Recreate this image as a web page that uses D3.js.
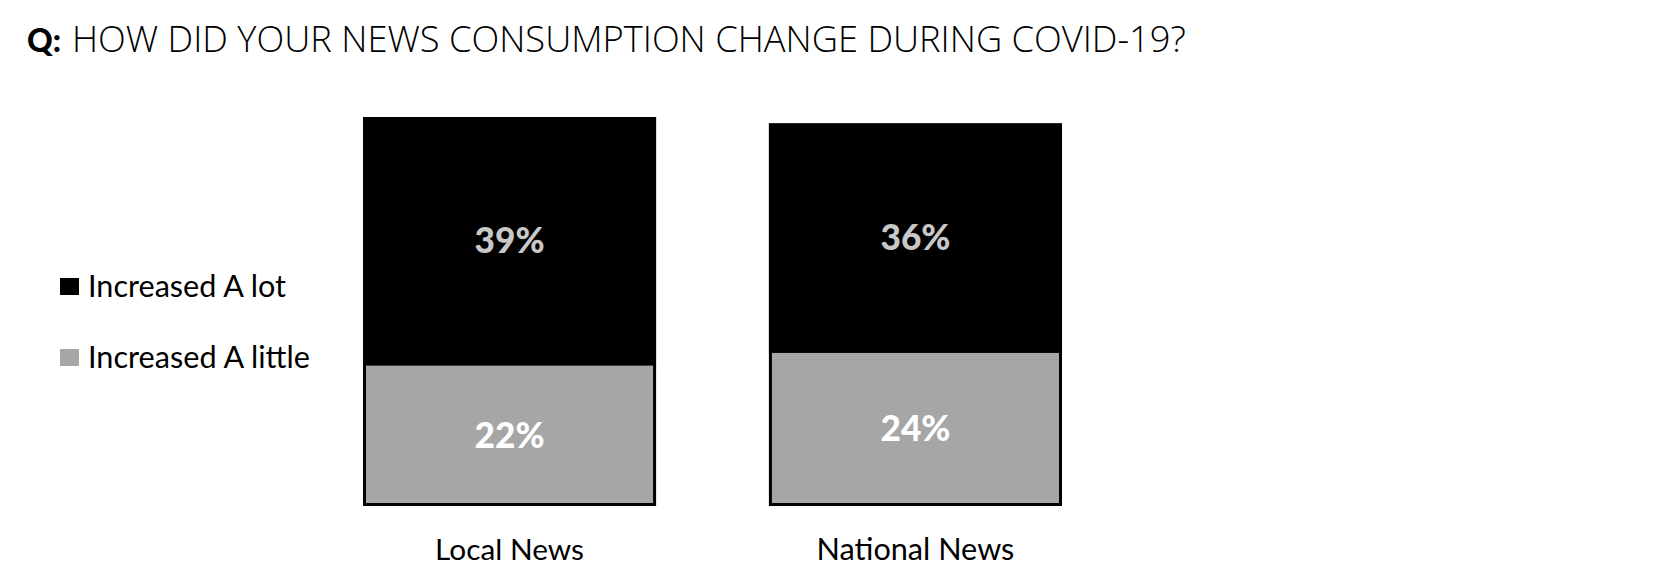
<!DOCTYPE html>
<html>
<head>
<meta charset="utf-8">
<script src="https://cdn.jsdelivr.net/npm/d3@7"></script>
<style>
  html, body { margin: 0; padding: 0; background: #ffffff; }
  svg { display: block; }
</style>
</head>
<body>
<svg id="chart" width="1654" height="588"></svg>
<script>
// ---- data ----
const titlePrefix = "Q:";
const titleText = "HOW DID YOUR NEWS CONSUMPTION CHANGE DURING COVID-19?";
const categories = ["Local News", "National News"];
const seriesNames = ["Increased A lot", "Increased A little"];
const increasedALot = [39, 36];
const increasedALittle = [22, 24];
const valueFormat = v => v + "%";

// ---- layout ----
const W = 1654, H = 588;
const svg = d3.select("#chart");
const colors = { "Increased A lot": "#000000", "Increased A little": "#a6a6a6" };
const labelColors = { "Increased A lot": "#c8c8c8", "Increased A little": "#ffffff" };

const calibriLike = "Lato, 'Open Sans', sans-serif";
const montLike = "'Open Sans', Lato, sans-serif";

function fitWidth(sel, target) {
  const w = sel.node().getComputedTextLength();
  const fs = parseFloat(sel.attr("font-size"));
  sel.attr("font-size", fs * target / w);
}

// title
const tQ = svg.append("text")
  .attr("x", 27).attr("y", 52)
  .attr("font-family", "Lato, sans-serif").attr("font-weight", 900)
  .attr("font-size", 31).attr("fill", "#000").text(titlePrefix);
fitWidth(tQ, 34);
const tT = svg.append("text")
  .attr("x", 72).attr("y", 52)
  .attr("font-family", montLike).attr("font-weight", 300)
  .attr("font-size", 30).attr("fill", "#000").text(titleText);
fitWidth(tT, 1186 - 72);

// scales
const x = d3.scaleBand().domain(categories).range([363, 1062]).paddingInner(0.278).paddingOuter(0);
const y = d3.scaleLinear().domain([0, 61]).range([506, 117]);

const rows = categories.map((c, i) => ({
  category: c,
  "Increased A little": increasedALittle[i],
  "Increased A lot": increasedALot[i]
}));
const stack = d3.stack().keys(["Increased A little", "Increased A lot"]);
const stacked = stack(rows);

const g = svg.append("g");
stacked.forEach(layer => {
  g.selectAll(null).data(layer).enter().append("rect")
    .attr("x", d => x(d.data.category))
    .attr("y", d => y(d[1]))
    .attr("width", x.bandwidth())
    .attr("height", d => y(d[0]) - y(d[1]))
    .attr("fill", colors[layer.key]);
});

// outlines
g.selectAll(null).data(rows).enter().append("rect")
  .attr("x", d => x(d.category) + 1.5)
  .attr("y", d => y(d["Increased A little"] + d["Increased A lot"]) + 1.5)
  .attr("width", x.bandwidth() - 3)
  .attr("height", d => y(0) - y(d["Increased A little"] + d["Increased A lot"]) - 3)
  .attr("fill", "none").attr("stroke", "#000").attr("stroke-width", 3);

// value labels
stacked.forEach(layer => {
  g.selectAll(null).data(layer).enter().append("text")
    .attr("x", d => x(d.data.category) + x.bandwidth() / 2)
    .attr("y", d => (y(d[0]) + y(d[1])) / 2 + 12)
    .attr("text-anchor", "middle")
    .attr("font-family", "Lato, sans-serif").attr("font-weight", 900)
    .attr("font-size", 33)
    .attr("fill", labelColors[layer.key])
    .text(d => valueFormat(d[1] - d[0]))
    .each(function() { fitWidth(d3.select(this), 70); });
});

// category labels
const xAxis = svg.append("g");
xAxis.selectAll(null).data(categories).enter().append("text")
  .attr("x", d => x(d) + x.bandwidth() / 2)
  .attr("y", 560)
  .attr("text-anchor", "middle")
  .attr("font-family", calibriLike).attr("font-size", 28)
  .attr("fill", "#000")
  .text(d => d)
  .each(function(d) { const s = d3.select(this); fitWidth(s, d === "Local News" ? 149 : 198); });

// legend
const legendYs = [297, 368];
const legend = svg.append("g");
seriesNames.forEach((name, i) => {
  legend.append("rect")
    .attr("x", 60).attr("y", legendYs[i] - 19)
    .attr("width", 19).attr("height", 17)
    .attr("fill", colors[name]);
  const t = legend.append("text")
    .attr("x", 88).attr("y", legendYs[i])
    .attr("font-family", calibriLike).attr("font-size", 28)
    .attr("fill", "#000").text(name);
  fitWidth(t, i === 0 ? 198 : 222);
});
</script>
</body>
</html>
